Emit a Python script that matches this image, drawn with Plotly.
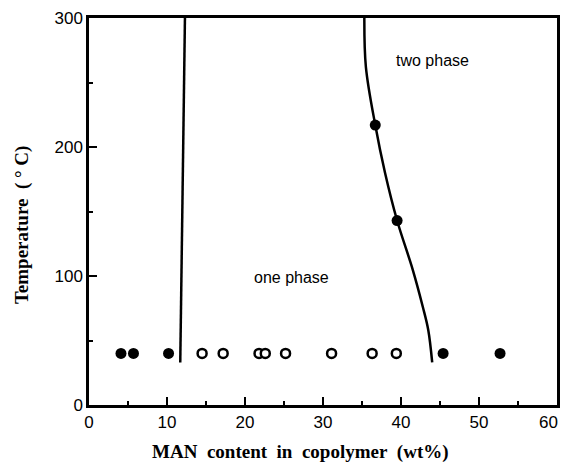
import plotly.graph_objects as go

# Data
filled_x = [4.1, 5.7, 10.2, 45.4, 52.7]
filled_y = [40, 40, 40, 40, 40]
open_x = [14.5, 17.2, 21.8, 22.6, 25.2, 31.1, 36.3, 39.4]
open_y = [40, 40, 40, 40, 40, 40, 40, 40]
curve_pts_x = [36.7, 39.5]
curve_pts_y = [217, 143]
boundary1_x = [11.7, 12.3]
boundary1_y = [33, 300]
boundary2_x = [35.3, 35.5, 36.7, 37.95, 39.5, 41.5, 42.8, 43.5, 44.0]
boundary2_y = [300, 262, 217, 180, 143, 105, 76, 58, 33]
x_tick_vals = [0, 10, 20, 30, 40, 50, 60]
x_tick_text = ["0", "10", "20", "30", "40", "50", "60"]
y_tick_vals = [0, 100, 200, 300]

fig = go.Figure()
fig.add_trace(go.Scatter(x=boundary1_x, y=boundary1_y, mode="lines",
                         line=dict(color="black", width=2.5), showlegend=False))
fig.add_trace(go.Scatter(x=boundary2_x, y=boundary2_y, mode="lines",
                         line=dict(color="black", width=2.5, shape="spline", smoothing=1.0),
                         showlegend=False))
fig.add_trace(go.Scatter(x=filled_x + curve_pts_x, y=filled_y + curve_pts_y, mode="markers",
                         marker=dict(color="black", size=11), showlegend=False))
fig.add_trace(go.Scatter(x=open_x, y=open_y, mode="markers",
                         marker=dict(color="white", size=9, line=dict(color="black", width=2.5)),
                         showlegend=False))

fig.add_annotation(x=44.0, y=267, text="two phase", showarrow=False,
                   font=dict(family="Arial, Liberation Sans", size=16, color="black"))
fig.add_annotation(x=25.9, y=99, text="one phase", showarrow=False,
                   font=dict(family="Arial, Liberation Sans", size=16, color="black"))

tick_font = dict(family="Arial, Liberation Sans", size=17, color="black")
# last x tick label drawn as annotation so it stays inside the page edge
fig.add_annotation(xref="paper", yref="paper", x=1.0064, y=-0.044,
                   text=x_tick_text[-1], showarrow=False,
                   xanchor="right", yanchor="middle", font=tick_font)

serif = "Times New Roman, Liberation Serif"
fig.add_annotation(xref="paper", yref="paper", x=0.451, y=-0.1214,
                   text="<b>MAN\u00a0 content\u00a0 in\u00a0 copolymer\u00a0 (wt%)</b>",
                   showarrow=False, xanchor="center", yanchor="middle",
                   font=dict(family=serif, size=19, color="black"))
fig.add_annotation(xref="paper", yref="paper", x=-0.143, y=0.465,
                   text="<b>Temperature\u00a0 (\u00a0\u00b0\u00a0C)</b>", textangle=-90,
                   showarrow=False, xanchor="center", yanchor="middle",
                   font=dict(family=serif, size=19, color="black"))

fig.update_layout(
    width=561, height=456,
    margin=dict(l=81, r=12, t=10, b=59, autoexpand=False),
    paper_bgcolor="white", plot_bgcolor="white",
    xaxis=dict(range=[0, 60], tickvals=x_tick_vals,
               ticktext=x_tick_text[:-1] + [""],
               automargin=False,
               showgrid=False, zeroline=False,
               showline=True, linecolor="black", linewidth=2.5, mirror=True,
               ticks="inside", ticklen=8, tickwidth=2, tickcolor="black",
               minor=dict(ticks="inside", dtick=5, ticklen=4, tickwidth=2, tickcolor="black"),
               tickfont=tick_font),
    yaxis=dict(range=[0, 300], tickvals=y_tick_vals,
               automargin=False,
               showgrid=False, zeroline=False,
               showline=True, linecolor="black", linewidth=2.5, mirror=True,
               ticks="inside", ticklen=8, tickwidth=2, tickcolor="black",
               minor=dict(ticks="inside", dtick=50, ticklen=4, tickwidth=2, tickcolor="black"),
               tickfont=tick_font),
)

fig.write_html("out.html")
